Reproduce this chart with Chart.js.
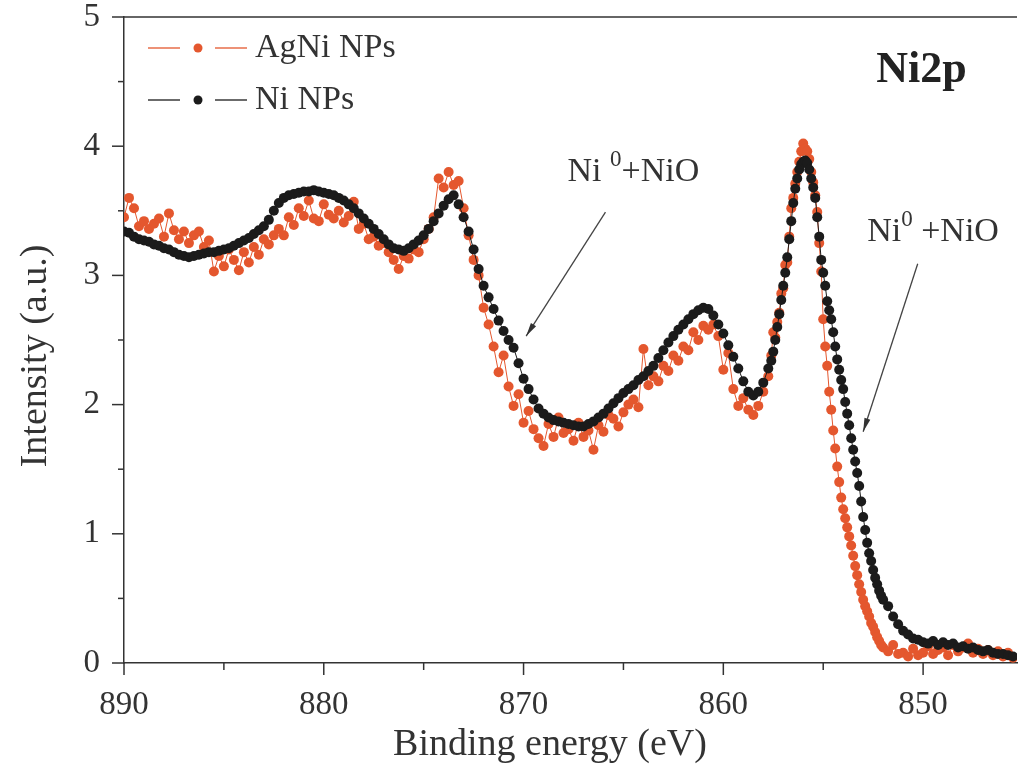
<!DOCTYPE html>
<html>
<head>
<meta charset="utf-8">
<title>Ni2p XPS</title>
<script src="https://cdn.jsdelivr.net/npm/chart.js@4.4.0/dist/chart.umd.min.js"></script>
<style>
  html, body { margin: 0; padding: 0; background: #fff; }
  #wrap { width: 1022px; height: 771px; position: relative; }
</style>
</head>
<body>
<div id="wrap"><canvas id="xps"></canvas></div>
<script>
// binding energy (eV): 0.25 eV steps, 0.1 eV across the steep main peak
const energy = [
  890, 889.75, 889.5, 889.25,  889, 888.75, 888.5, 888.25,  888, 887.75, 887.5, 887.25,
  887, 886.75, 886.5, 886.25,  886, 885.75, 885.5, 885.25,  885, 884.75, 884.5, 884.25,
  884, 883.75, 883.5, 883.25,  883, 882.75, 882.5, 882.25,  882, 881.75, 881.5, 881.25,
  881, 880.75, 880.5, 880.25,  880, 879.75, 879.5, 879.25,  879, 878.75, 878.5, 878.25,
  878, 877.75, 877.5, 877.25,  877, 876.75, 876.5, 876.25,  876, 875.75, 875.5, 875.25,
  875, 874.75, 874.5, 874.25,  874, 873.75, 873.5, 873.25,  873, 872.75, 872.5, 872.25,
  872, 871.75, 871.5, 871.25,  871, 870.75, 870.5, 870.25,  870, 869.75, 869.5, 869.25,
  869, 868.75, 868.5, 868.25,  868, 867.75, 867.5, 867.25,  867, 866.75, 866.5, 866.25,
  866, 865.75, 865.5, 865.25,  865, 864.75, 864.5, 864.25,  864, 863.75, 863.5, 863.25,
  863, 862.75, 862.5, 862.25,  862, 861.75, 861.5, 861.25,  861, 860.75, 860.5, 860.25,
  860, 859.75, 859.5, 859.25,  859, 858.75, 858.5, 858.25,  858, 857.75,
  857.6, 857.5, 857.4, 857.3, 857.2, 857.1, 857.0, 856.9, 856.8, 856.7,
  856.6, 856.5, 856.4, 856.3, 856.2, 856.1, 856.0, 855.9, 855.8, 855.7,
  855.6, 855.5, 855.4, 855.3, 855.2, 855.1, 855.0, 854.9, 854.8, 854.7,
  854.6, 854.5, 854.4, 854.3, 854.2, 854.1, 854.0, 853.9, 853.8, 853.7,
  853.6, 853.5, 853.4, 853.3, 853.2, 853.1, 853.0, 852.9, 852.8, 852.7,
  852.6, 852.5, 852.4, 852.3, 852.2, 852.1, 852.0,
  851.75, 851.5, 851.25, 851,  850.75, 850.5, 850.25, 850,  849.75, 849.5, 849.25, 849,
  848.75, 848.5, 848.25, 848,  847.75, 847.5, 847.25, 847,  846.75, 846.5, 846.25, 846,
  845.75, 845.5
];

// Ni NPs intensity (a.u.)
const niNPs = [
  3.34, 3.33, 3.30, 3.28,  3.27, 3.26, 3.24, 3.23,  3.21, 3.20, 3.18, 3.16,
  3.15, 3.14, 3.15, 3.16,  3.17, 3.18, 3.18, 3.19,  3.20, 3.21, 3.23, 3.25,
  3.27, 3.29, 3.32, 3.35,  3.38, 3.43, 3.50, 3.56,  3.60, 3.62, 3.63, 3.64,
  3.65, 3.65, 3.66, 3.65,  3.64, 3.63, 3.62, 3.60,  3.58, 3.55, 3.52, 3.48,
  3.44, 3.40, 3.36, 3.32,  3.28, 3.24, 3.21, 3.20,  3.19, 3.21, 3.24, 3.27,
  3.31, 3.36, 3.42, 3.48,  3.54, 3.59, 3.62, 3.55,  3.45, 3.34, 3.20, 3.05,
  2.92, 2.83, 2.74, 2.65,  2.57, 2.50, 2.44, 2.32,  2.20, 2.12, 2.04, 1.97,
  1.93, 1.90, 1.88, 1.87,  1.86, 1.85, 1.84, 1.83,  1.83, 1.85, 1.87, 1.90,
  1.93, 1.97, 2.01, 2.05,  2.09, 2.12, 2.15, 2.19,  2.22, 2.26, 2.30, 2.36,
  2.42, 2.48, 2.53, 2.58,  2.62, 2.66, 2.70, 2.73,  2.75, 2.74, 2.69, 2.62,
  2.55, 2.46, 2.37, 2.28,  2.18, 2.10, 2.07, 2.10,  2.17, 2.28,
  2.34, 2.41, 2.50, 2.60, 2.70, 2.81, 2.92, 3.02, 3.14, 3.28,
  3.42, 3.56, 3.67, 3.75, 3.82, 3.86, 3.88, 3.89, 3.87, 3.82,
  3.75, 3.68, 3.60, 3.45, 3.30, 3.12, 3.02, 2.92, 2.80, 2.73,
  2.66, 2.56, 2.45, 2.35, 2.27, 2.19, 2.12, 2.02, 1.93, 1.84,
  1.74, 1.65, 1.56, 1.47, 1.37, 1.25, 1.13, 1.03, 0.93, 0.85,
  0.79, 0.72, 0.66, 0.61, 0.56, 0.52, 0.49,
  0.44, 0.36, 0.30, 0.25,  0.22, 0.19, 0.18, 0.16,  0.15, 0.17, 0.14, 0.16,
  0.14, 0.15, 0.12, 0.13,  0.11, 0.12, 0.10, 0.09,  0.10, 0.08, 0.07, 0.07,
  0.06, 0.05
];

// AgNi NPs intensity (a.u.)
const agNiNPs = [
  3.45, 3.60, 3.52, 3.38,  3.42, 3.36, 3.40, 3.44,  3.30, 3.48, 3.35, 3.28,
  3.34, 3.25, 3.31, 3.34,  3.22, 3.27, 3.03, 3.15,  3.07, 3.20, 3.12, 3.04,
  3.18, 3.10, 3.22, 3.16,  3.28, 3.24, 3.31, 3.36,  3.31, 3.45, 3.39, 3.52,
  3.46, 3.58, 3.44, 3.42,  3.55, 3.47, 3.44, 3.50,  3.41, 3.46, 3.57, 3.36,
  3.40, 3.28, 3.30, 3.23,  3.25, 3.18, 3.12, 3.05,  3.15, 3.13, 3.20, 3.18,
  3.28, 3.36, 3.45, 3.75,  3.68, 3.80, 3.70, 3.73,  3.52, 3.31, 3.12, 3.00,
  2.75, 2.62, 2.45, 2.25,  2.38, 2.14, 1.99, 2.08,  1.86, 1.95, 1.81, 1.74,
  1.68, 1.85, 1.75, 1.90,  1.78, 1.81, 1.72, 1.86,  1.75, 1.80, 1.65, 1.84,
  1.79, 1.92, 1.89, 1.83,  1.94, 2.00, 2.04, 1.98,  2.43, 2.15, 2.22, 2.18,
  2.30, 2.26, 2.38, 2.34,  2.45, 2.42, 2.56, 2.50,  2.61, 2.58, 2.62, 2.53,
  2.27, 2.40, 2.12, 1.99,  2.05, 1.96, 1.92, 1.99,  2.10, 2.22,
  2.38, 2.56, 2.52, 2.64, 2.71, 2.86, 2.90, 3.08, 3.10, 3.30,
  3.52, 3.60, 3.71, 3.80, 3.88, 3.96, 4.02, 3.98, 3.96, 3.90,
  3.80, 3.72, 3.62, 3.49, 3.25, 3.03, 2.66, 2.45, 2.30, 2.10,
  1.96, 1.80, 1.66, 1.52, 1.40, 1.28, 1.19, 1.12, 1.05, 0.98,
  0.91, 0.83, 0.75, 0.68, 0.61, 0.55, 0.49, 0.44, 0.40, 0.36,
  0.31, 0.28, 0.24, 0.20, 0.17, 0.14, 0.12,
  0.09, 0.14, 0.07, 0.08,  0.05, 0.11, 0.06, 0.08,  0.13, 0.07, 0.10, 0.12,
  0.06, 0.14, 0.09, 0.12,  0.15, 0.08, 0.11, 0.07,  0.10, 0.06, 0.09, 0.05,
  0.08, 0.04
];

const xMajor = [890, 880, 870, 860, 850];
const xMinor = [885, 875, 865, 855];
const yMajor = [0, 1, 2, 3, 4, 5];
const yMinor = [0.5, 1.5, 2.5, 3.5, 4.5];

// annotations, in data units (eV, a.u.)
const noteText = [["Ni ", "0", "+NiO"], ["Ni", "0", " +NiO"]];
const noteAt = [[867.8, 3.73], [852.8, 3.27]];
const arrowFrom = [[865.9, 3.49], [850.27, 3.09]];
const arrowTo = [[869.87, 2.53], [853.0, 1.79]];
const panelTag = "Ni2p";
const panelAt = [852.35, 4.5];

const ORANGE = "#e4572e";
const BLACK = "#1b1b1b";
const INK = "#333";
const SERIF = "'Liberation Serif', 'DejaVu Serif', serif";

console.assert(energy.length === niNPs.length && energy.length === agNiNPs.length,
  energy.length, niNPs.length, agNiNPs.length);

const toPoints = (vals) => energy.map((e, i) => ({ x: e, y: vals[i] }));

const line = (ctx, x1, y1, x2, y2) => {
  ctx.beginPath();
  ctx.moveTo(x1, y1);
  ctx.lineTo(x2, y2);
  ctx.stroke();
};

// ticks, frame, titles, legend and the labels drawn over the plot
const decor = {
  id: "decor",
  afterDraw(chart) {
    const { ctx, chartArea: a, scales: { x, y } } = chart;
    ctx.save();
    ctx.strokeStyle = INK;
    ctx.lineWidth = 1.5;
    line(ctx, a.left, a.top, a.right, a.top);

    xMajor.forEach((v) => { const p = x.getPixelForValue(v); line(ctx, p, a.bottom, p, a.bottom + 12); });
    xMinor.forEach((v) => { const p = x.getPixelForValue(v); line(ctx, p, a.bottom, p, a.bottom + 7); });
    yMajor.forEach((v) => { const p = y.getPixelForValue(v); line(ctx, a.left - 12, p, a.left, p); });
    yMinor.forEach((v) => { const p = y.getPixelForValue(v); line(ctx, a.left - 6, p, a.left, p); });

    // axis titles
    ctx.fillStyle = INK;
    ctx.font = "38px " + SERIF;
    ctx.textAlign = "center";
    ctx.textBaseline = "middle";
    ctx.fillText("Binding energy (eV)", 550, 745);
    ctx.save();
    ctx.translate(36, 356);
    ctx.rotate(-Math.PI / 2);
    ctx.fillText("Intensity (a.u.)", 0, 0);
    ctx.restore();

    // legend
    const series = [["AgNi NPs", ORANGE], ["Ni NPs", BLACK]];
    series.forEach(([name, color], i) => {
      const cy = a.top + 31 + i * 52;
      const lx = a.left + 24;
      ctx.strokeStyle = color;
      ctx.lineWidth = 1.3;
      line(ctx, lx, cy, lx + 32, cy);
      line(ctx, lx + 67, cy, lx + 99, cy);
      ctx.fillStyle = color;
      ctx.beginPath();
      ctx.arc(lx + 50, cy, 4.5, 0, Math.PI * 2);
      ctx.fill();
      ctx.fillStyle = INK;
      ctx.font = "34px " + SERIF;
      ctx.textAlign = "left";
      ctx.fillText(name, lx + 107, cy);
    });

    // Ni2p tag
    ctx.font = "bold 44px " + SERIF;
    ctx.textBaseline = "alphabetic";
    ctx.fillStyle = "#222";
    ctx.fillText(panelTag, x.getPixelForValue(panelAt[0]), y.getPixelForValue(panelAt[1]));

    // Ni0 + NiO notes with arrows
    noteText.forEach((parts, i) => {
      let px = x.getPixelForValue(noteAt[i][0]);
      const py = y.getPixelForValue(noteAt[i][1]);
      ctx.fillStyle = INK;
      ctx.font = "34px " + SERIF;
      ctx.fillText(parts[0], px, py);
      px += ctx.measureText(parts[0]).width;
      ctx.font = "23px " + SERIF;
      ctx.fillText(parts[1], px, py - 15);
      px += ctx.measureText(parts[1]).width;
      ctx.font = "34px " + SERIF;
      ctx.fillText(parts[2], px, py);

      const x1 = x.getPixelForValue(arrowFrom[i][0]), y1 = y.getPixelForValue(arrowFrom[i][1]);
      const x2 = x.getPixelForValue(arrowTo[i][0]), y2 = y.getPixelForValue(arrowTo[i][1]);
      ctx.strokeStyle = "#444";
      ctx.lineWidth = 1.3;
      line(ctx, x1, y1, x2, y2);
      const ang = Math.atan2(y2 - y1, x2 - x1);
      ctx.fillStyle = "#333";
      ctx.beginPath();
      ctx.moveTo(x2, y2);
      ctx.lineTo(x2 - 14 * Math.cos(ang - 0.22), y2 - 14 * Math.sin(ang - 0.22));
      ctx.lineTo(x2 - 14 * Math.cos(ang + 0.22), y2 - 14 * Math.sin(ang + 0.22));
      ctx.closePath();
      ctx.fill();
    });
    ctx.restore();
  }
};

const tickFont = { family: SERIF, size: 33, lineHeight: 1 };

new Chart(document.getElementById("xps"), {
  type: "line",
  data: {
    datasets: [
      {
        label: "Ni NPs",
        data: toPoints(niNPs),
        borderColor: BLACK,
        backgroundColor: BLACK,
        borderWidth: 1,
        pointRadius: 5,
        pointBorderWidth: 0,
        tension: 0,
      },
      {
        label: "AgNi NPs",
        data: toPoints(agNiNPs),
        borderColor: ORANGE,
        backgroundColor: ORANGE,
        borderWidth: 1,
        pointRadius: 5,
        pointBorderWidth: 0,
        tension: 0,
      },
    ],
  },
  options: {
    responsive: true,
    maintainAspectRatio: false,
    animation: false,
    layout: { padding: { top: 17, right: 0, bottom: 0, left: 0 } },
    scales: {
      x: {
        type: "linear",
        reverse: true,
        min: 845.3,
        max: 890,
        afterFit: (s) => { s.height = 108; s.paddingLeft = 0; s.paddingRight = 0; },
        grid: { display: false, drawTicks: true, tickLength: 12 },
        border: { display: true, color: INK, width: 1.5 },
        ticks: {
          stepSize: 5,
          includeBounds: false,
          autoSkip: false,
          maxRotation: 0,
          padding: 14,
          color: INK,
          font: tickFont,
          callback: (v) => (v % 10 === 0 ? String(v) : ""),
        },
      },
      y: {
        min: 0,
        max: 5,
        afterFit: (s) => { s.width = 124; s.paddingTop = 0; s.paddingBottom = 0; },
        grid: { display: false, drawTicks: true, tickLength: 12 },
        border: { display: true, color: INK, width: 1.5 },
        ticks: {
          stepSize: 0.5,
          autoSkip: false,
          padding: 12,
          color: INK,
          font: tickFont,
          callback: (v) => (Number.isInteger(v) ? String(v) : ""),
        },
      },
    },
    plugins: {
      legend: { display: false },
      tooltip: { enabled: false },
    },
  },
  plugins: [decor],
});
</script>
</body>
</html>
